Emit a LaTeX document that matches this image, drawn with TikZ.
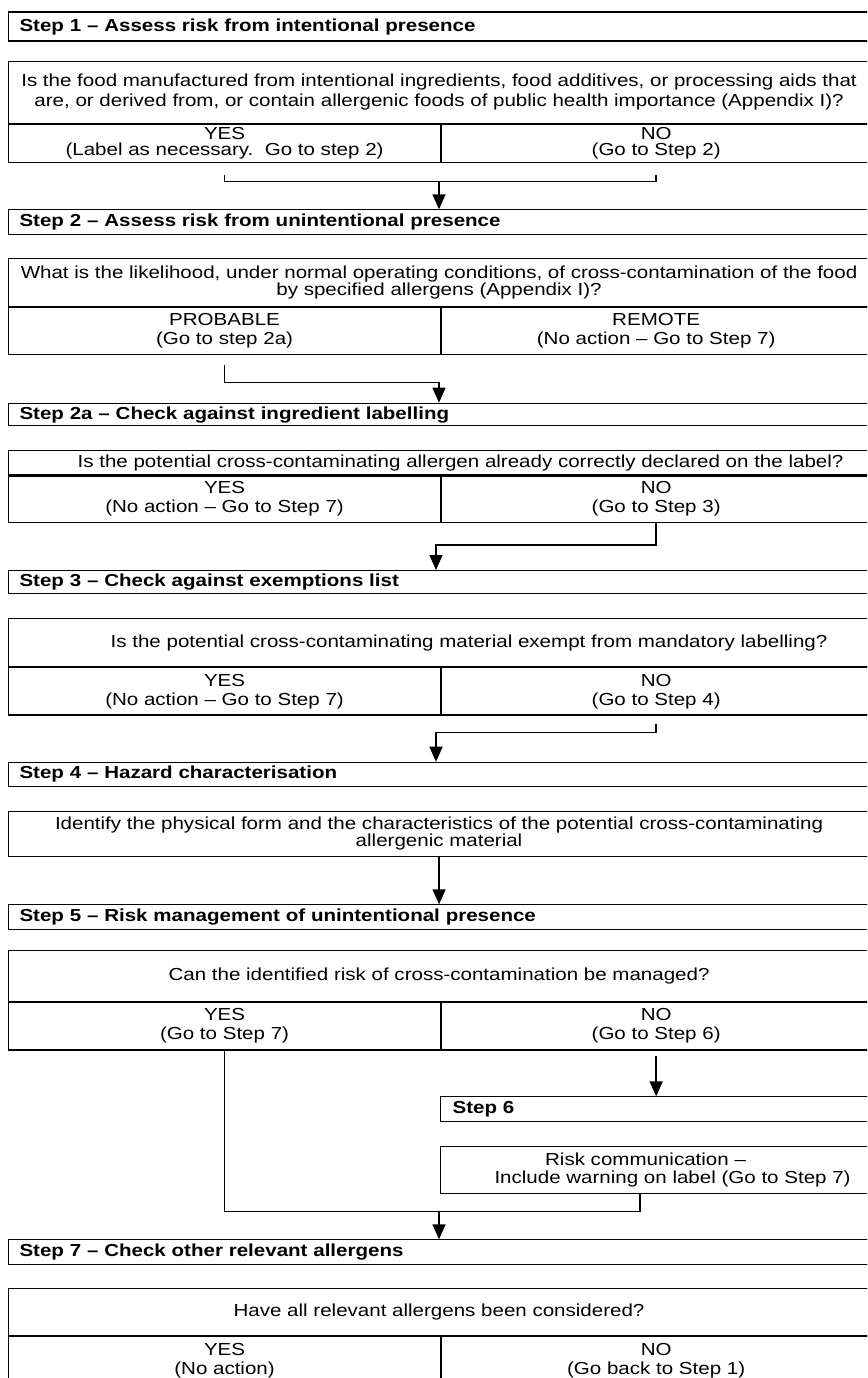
\documentclass[tikz,border=0pt]{standalone}
\usepackage{fontspec}
\setmainfont{Liberation Sans}[FakeStretch=1.18]
\usetikzlibrary{arrows.meta}
\newcommand\chartfont{\fontsize{17.4pt}{19pt}\selectfont}
\begin{document}
\begin{tikzpicture}[x=1pt,y=-1pt,
    stephead/.style={draw,line width=1.1pt,anchor=north west,inner xsep=11pt,inner ysep=0pt,
      text width=839pt,align=left,font=\chartfont\bfseries},
    cell/.style={draw,line width=1.1pt,anchor=north west,inner sep=0pt,align=center,font=\chartfont},
    link/.style={line width=1.5pt},
    arr/.style={line width=1.5pt,-{Triangle[length=15pt,width=13pt]}}]
      \useasboundingbox (0,0) rectangle (867,1378);
      \clip (0,0) rectangle (867,1378);
      % step 1
      \node[stephead,minimum height=29pt] (s1) at (8,11.5) {Step 1 – Assess risk from intentional presence};
      \node[cell,minimum width=861pt,minimum height=62pt] (q1) at (8,60.7)
        {Is the food manufactured from intentional ingredients, food additives, or processing aids that\\[1pt]
         are, or derived from, or contain allergenic foods of public health importance (Appendix I)?};
      \node[cell,minimum width=432pt,minimum height=38pt] (q1y) at (q1.south west) {YES\\[-3pt](Label as necessary.\ \ Go to step 2)};
      \node[cell,minimum width=429pt,minimum height=38pt] (q1n) at (q1y.north east) {NO\\[-3pt](Go to Step 2)};
      % step 2
      \node[stephead,minimum height=25pt] (s2) at (8,209.3) {Step 2 – Assess risk from unintentional presence};
      \node[cell,minimum width=861pt,minimum height=48.3pt] (q2) at (8,257.7)
        {What is the likelihood, under normal operating conditions, of cross-contamination of the food\\[-2pt]
         by specified allergens (Appendix I)?};
      \node[cell,minimum width=432pt,minimum height=46.7pt] (q2p) at (q2.south west) {PROBABLE\\(Go to step 2a)};
      \node[cell,minimum width=429pt,minimum height=46.7pt] (q2r) at (q2p.north east) {REMOTE\\(No action – Go to Step 7)};
      % step 2a
      \node[stephead,minimum height=22.6pt] (s2a) at (8,402.7) {Step 2a – Check against ingredient labelling};
      \node[cell,minimum width=861pt,minimum height=24.3pt] (q2a) at (8,450)
        {\hspace*{43pt}Is the potential cross-contaminating allergen already correctly declared on the label?};
      \node[cell,minimum width=432pt,minimum height=46.4pt] (q2ay) at (q2a.south west) {YES\\(No action – Go to Step 7)};
      \node[cell,minimum width=429pt,minimum height=46.4pt] (q2an) at (q2ay.north east) {NO\\(Go to Step 3)};
      % step 3
      \node[stephead,minimum height=23.3pt] (s3) at (8,570) {Step 3 – Check against exemptions list};
      \node[cell,minimum width=861pt,minimum height=47.7pt] (q3) at (8,618.3)
        {\hspace*{60pt}Is the potential cross-contaminating material exempt from mandatory labelling?};
      \node[cell,minimum width=432pt,minimum height=47.3pt] (q3y) at (q3.south west) {YES\\(No action – Go to Step 7)};
      \node[cell,minimum width=429pt,minimum height=47.3pt] (q3n) at (q3y.north east) {NO\\(Go to Step 4)};
      % step 4
      \node[stephead,minimum height=24pt] (s4) at (8,761.7) {Step 4 – Hazard characterisation};
      \node[cell,minimum width=861pt,minimum height=45.3pt] (q4) at (8,810.7)
        {Identify the physical form and the characteristics of the potential cross-contaminating\\[-2pt]
         allergenic material};
      % step 5
      \node[stephead,minimum height=25pt] (s5) at (8,904.3) {Step 5 – Risk management of unintentional presence};
      \node[cell,minimum width=861pt,minimum height=50.7pt] (q5) at (8,950)
        {Can the identified risk of cross-contamination be managed?};
      \node[cell,minimum width=432pt,minimum height=47.6pt] (q5y) at (q5.south west) {YES\\(Go to Step 7)};
      \node[cell,minimum width=429pt,minimum height=47.6pt] (q5n) at (q5y.north east) {NO\\(Go to Step 6)};
      % step 6
      \node[stephead,text width=405pt,inner xsep=12pt,minimum height=25pt] (s6) at (440,1096.3) {Step 6};
      \node[cell,minimum width=429pt,minimum height=47.3pt] (r6) at (440,1145.7)
        {Risk communication –\hspace*{19pt}\\[-1pt]\hspace*{35pt}Include warning on label (Go to Step 7)};
      % step 7
      \node[stephead,minimum height=25pt] (s7) at (8,1239.3) {Step 7 – Check other relevant allergens};
      \node[cell,minimum width=861pt,minimum height=46.7pt] (q7) at (8,1288.3)
        {Have all relevant allergens been considered?};
      \node[cell,minimum width=432pt,minimum height=48pt] (q7y) at (q7.south west) {YES\\(No action)};
      \node[cell,minimum width=429pt,minimum height=48pt] (q7n) at (q7y.north east) {NO\\(Go back to Step 1)};
      % connectors
      \coordinate (j1) at (439,181.7);
      \draw[link] ([yshift=-12pt]q1y.south) |- (j1) -| ([yshift=-12pt]q1n.south);
      \draw[arr] (j1) -- (j1 |- s2.north);
      \coordinate (j2) at (439,382.7);
      \draw[arr] ([yshift=-10pt]q2p.south) |- (j2) -- (j2 |- s2a.north);
      \coordinate (j3) at (436,545);
      \draw[arr] (q2an.south) |- (j3) -- (j3 |- s3.north);
      \coordinate (j4) at (436,732.7);
      \draw[arr] ([yshift=-8pt]q3n.south) |- (j4) -- (j4 |- s4.north);
      \draw[arr] (q4.south) -- (q4.south |- s5.north);
      \draw[arr] ([yshift=-5pt]q5n.south) -- (q5n.south |- s6.north);
      \coordinate (j5) at (439,1211.4);
      \draw[link] (q5y.south) |- (j5) -| ([xshift=-15pt]r6.south);
      \draw[arr] (j5) -- (j5 |- s7.north);
    \end{tikzpicture}
\end{document}
